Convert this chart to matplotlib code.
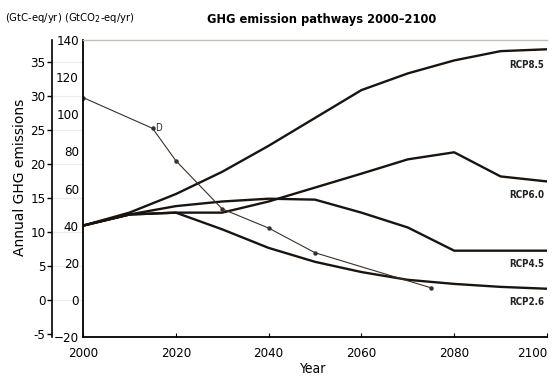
import matplotlib
matplotlib.use("Agg")
import matplotlib.pyplot as plt
import matplotlib.transforms as mtransforms

# emission pathways, GtCO2-eq/yr
years = [2000, 2010, 2020, 2030, 2040, 2050, 2060, 2070, 2080, 2090, 2100]
rcp85 = [40, 47, 57, 69, 83, 98, 113, 122, 129, 134, 135]
rcp60 = [40, 46, 47, 47, 53, 60.5, 68, 75.7, 79.5, 66.5, 63.8]
rcp45 = [40, 46, 50.5, 53, 54.5, 54, 47, 39, 26.5, 26.5, 26.5]
rcp26 = [40, 46, 47, 38, 28, 20.5, 15, 10.8, 8.6, 7, 6]
rcp_names = ["RCP8.5", "RCP6.0", "RCP4.5", "RCP2.6"]

# thin pathway "D"
d_years = [2000, 2015, 2020, 2030, 2040, 2050, 2075]
d_vals = [109, 92.4, 75, 49, 38.7, 25.4, 6.5]

co2_per_c = 44.0 / 12.0
inner_ticks = [-20, 0, 20, 40, 60, 80, 100, 120, 140]
outer_ticks = [-5, 0, 5, 10, 15, 20, 25, 30, 35]
x_ticks = [2000, 2020, 2040, 2060, 2080, 2100]

cond = dict(family="DejaVu Sans", stretch="condensed")

W, H = 558, 380
fig = plt.figure(figsize=(W / 100, H / 100), dpi=100)
ax = fig.add_axes([83 / W, (H - 337) / H, (547 - 83) / W, (337 - 40) / H])

ink = "#1a1410"
for vals in [rcp85, rcp60, rcp45, rcp26]:
    ax.plot(years, vals, color=ink, lw=1.7, solid_capstyle="round")

ax.plot(d_years, d_vals, color="#3a3028", lw=0.8, marker="o", ms=2.2)
ax.text(d_years[1] + 0.6, d_vals[1], "D", fontsize=7, va="center",
        ha="left", color="#222222", **cond)

label_dy = [-11, -10, -9.5, -9.5]
for name, vals, dy in zip(rcp_names, [rcp85, rcp60, rcp45, rcp26], label_dy):
    ax.annotate(name, (years[-1], vals[-1]), xytext=(-2, dy),
                textcoords="offset points", ha="right", va="center",
                fontsize=7, fontweight="bold", color="#222222", **cond)

ax.set_xlim(2000, 2100)
ax.set_ylim(-20, 140)
ax.set_xticks(x_ticks)
ax.set_yticks(inner_ticks)
ax.set_yticklabels([str(t).replace("-", "\u2212") for t in inner_ticks])
ax.tick_params(axis="y", length=0, pad=3, labelsize=9.5)
ax.tick_params(axis="x", direction="in", length=3, labelsize=9.5, pad=7)
for lab in ax.get_xticklabels() + ax.get_yticklabels():
    lab.set_family("DejaVu Sans")
    lab.set_stretch("condensed")
# keep the last year inside the figure
ax.get_xticklabels()[-1].set_ha("right")

ax.spines["right"].set_visible(False)
ax.spines["top"].set_color("#c4c0b8")
ax.spines["top"].set_linewidth(1.0)
ax.spines["left"].set_linewidth(1.3)
ax.spines["bottom"].set_linewidth(1.3)

# second scale in GtC-eq
off = -(83 - 52) / (547 - 83)
sec = ax.secondary_yaxis(off, functions=(lambda v: v / co2_per_c,
                                         lambda v: v * co2_per_c))
sec.set_yticks(outer_ticks)
sec.set_yticklabels([str(t) for t in outer_ticks])
sec.tick_params(direction="out", length=3.5, width=1, labelsize=9.5, pad=1)
for lab in sec.get_yticklabels():
    lab.set_family("DejaVu Sans")
    lab.set_stretch("condensed")
sec.spines["left"].set_linewidth(1.2)

# faint grid between the two scales
trans = mtransforms.blended_transform_factory(ax.transAxes, ax.transData)
for t in outer_ticks[1:]:
    ax.plot([off, 0], [t * co2_per_c] * 2, transform=trans, color="#ececec",
            lw=0.8, clip_on=False, zorder=0)

ax.set_xlabel("Year", fontsize=10, **cond)
ax.xaxis.set_label_coords(0.497, -0.083)

fig.text(20 / W, 1 - 177 / H, "Annual GHG emissions", rotation=90,
         ha="center", va="center", fontsize=10)
fig.text(322 / W, 1 - 20 / H, "GHG emission pathways 2000\u20132100",
         ha="center", va="center", fontsize=9.2, fontweight="bold", **cond)
fig.text(5 / W, 1 - 18 / H, "(GtC-eq/yr) (GtCO$_2$-eq/yr)",
         ha="left", va="center", fontsize=8, **cond)

fig.savefig("out.png", dpi=100)
